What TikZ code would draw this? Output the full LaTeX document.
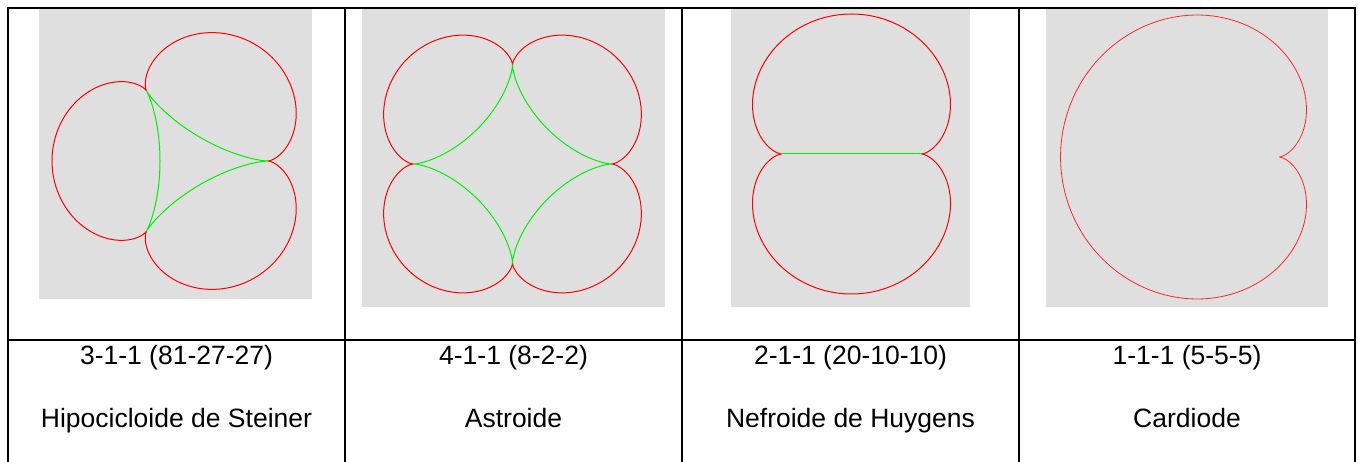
\documentclass[tikz,border=0pt]{standalone}
\usepackage{fontspec}
\setmainfont{Liberation Sans}
\definecolor{panelgray}{RGB}{223,223,223}
\definecolor{cred}{RGB}{255,0,0}
\definecolor{cgreen}{RGB}{0,240,0}
\begin{document}
\begin{tikzpicture}[x=1pt,y=-1pt,
  rule/.style={line width=2pt,black},
  panel/.style={fill=panelgray,draw=none},
  epi/.style={cred,line width=1pt,line join=round},
  hypo/.style={cgreen,line width=1pt,line join=round},
  lbl/.style={anchor=base,inner sep=0pt,font=\fontsize{26.5}{30}\selectfont}]
\useasboundingbox (0,0) rectangle (1358,462);
\fill[white] (0,0) rectangle (1358,462);
% panels
\fill[panel] (39,9) rectangle (312,299);
\fill[panel] (362,9) rectangle (665,307);
\fill[panel] (731,9) rectangle (970,307);
\fill[panel] (1046,9) rectangle (1328,307);
% Steiner
\begin{scope}[shift={(187,161)},x=1pt,y=1pt]
\draw[epi] plot[domain=0:360,samples=361,variable=\t] ({108*cos(\t)-27*cos(4*\t)},{108*sin(\t)-27*sin(4*\t)}) -- cycle;
\draw[hypo] plot[domain=0:360,samples=361,variable=\t] ({54*cos(\t)+27*cos(2*\t)},{54*sin(\t)-27*sin(2*\t)}) -- cycle;
\end{scope}
% Astroid
\begin{scope}[shift={(512.5,164)},x=12.4pt,y=12.4pt]
\draw[epi] plot[domain=0:360,samples=361,variable=\t] ({10*cos(\t)-2*cos(5*\t)},{10*sin(\t)-2*sin(5*\t)}) -- cycle;
\draw[hypo] plot[domain=0:360,samples=361,variable=\t] ({6*cos(\t)+2*cos(3*\t)},{6*sin(\t)-2*sin(3*\t)}) -- cycle;
\end{scope}
% Nephroid
\begin{scope}[shift={(851.5,154)},x=3.5pt,y=3.5pt]
\draw[epi] plot[domain=0:360,samples=361,variable=\t] ({30*cos(\t)-10*cos(3*\t)},{30*sin(\t)-10*sin(3*\t)}) -- cycle;
\coordinate (nl) at (-20,0);
\coordinate (nr) at (20,0);
\draw[hypo] (nl) -- (nr);
\end{scope}
% Cardioid
\begin{scope}[shift={(1224.5,157)},x=10.93pt,y=10.93pt]
\draw[epi,line width=0.8pt,cred!85] plot[domain=0:360,samples=361,variable=\t] ({10*cos(\t)-5*cos(2*\t)},{10*sin(\t)-5*sin(2*\t)}) -- cycle;
\end{scope}
% table rules
\draw[rule] (7,8) -- (1356,8);
\draw[rule] (8,340) -- (1355,340);
\foreach \xx in {8,345,682,1019,1355} \draw[rule] (\xx,7) -- (\xx,462);
% labels
\node[lbl] (a1) at (176.5,365) {3-1-1 (81-27-27)};
\node[lbl] (a2) at (176.5,428) {Hipocicloide de Steiner};
\node[lbl] (b1) at (513.5,365) {4-1-1 (8-2-2)};
\node[lbl] (b2) at (513.5,428) {Astroide};
\node[lbl] (c1) at (850.5,365) {2-1-1 (20-10-10)};
\node[lbl] (c2) at (850.5,428) {Nefroide de Huygens};
\node[lbl] (d1) at (1187,365) {1-1-1 (5-5-5)};
\node[lbl] (d2) at (1187,428) {Cardiode};
\end{tikzpicture}
\end{document}
